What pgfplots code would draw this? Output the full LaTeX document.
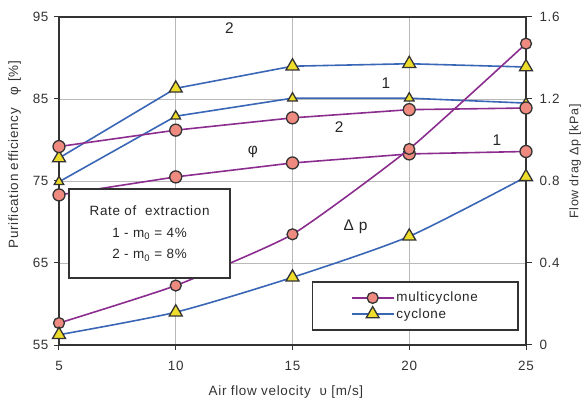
\documentclass[border=0pt]{standalone}
\usepackage{pgfplots}
\pgfplotsset{compat=1.18}
\usepackage{fontspec}
\setmainfont{Liberation Sans}[LetterSpace=5]
\definecolor{mpurple}{HTML}{8B2D8F}
\definecolor{mblue}{HTML}{3A66B6}
\definecolor{msalmon}{HTML}{EE8A80}
\definecolor{myellow}{HTML}{EEDD2A}
\definecolor{edge}{HTML}{333333}
\pgfplotsset{
  multi/.style={mpurple, line width=1.6bp, mark=*, mark size=6bp,
     mark options={fill=msalmon, draw=edge, line width=1.3bp, solid}},
  cyc/.style={mblue, line width=1.6bp, mark=triangle*, mark size=7.5bp,
     mark options={fill=myellow, draw=edge, line width=1.3bp, solid}},
  cycsmall/.style={cyc, mark size=5.5bp},
}
\begin{document}
\begin{tikzpicture}[font=\fontsize{13.5}{15}\selectfont]
\begin{axis}[
  at={(0,0)}, anchor=south west,
  scale only axis, width=467bp, height=328bp,
  xmin=5, xmax=25, ymin=55, ymax=95,
  xtick={5,10,15,20,25}, ytick={55,65,75,85,95},
  xtick pos=bottom, ytick pos=left,
  tick align=outside, major tick length=5bp,
  tick style={edge, line width=1bp},
  axis line style={draw=none},
  grid=major, major grid style={gray!55, line width=0.9bp},
  /pgf/number format/assume math mode=true,
  ticklabel style={font=\fontsize{13.5}{15}\selectfont, text=black!80},
  xticklabel style={yshift=-8bp},
  yticklabel style={xshift=-2bp},
  xlabel={Air flow velocity\ \ υ [m/s]},
  xlabel style={at={(axis description cs:0.486,-0.143)}, anchor=center, text=black!80},
  ylabel={Purification efficiency\ \ \ φ [\%]},
  ylabel style={at={(axis description cs:-0.095,0.58)}, anchor=center, text=black!80},
  clip=false,
]
\draw[edge, line width=1.3bp] (rel axis cs:0,1) -- (rel axis cs:1,1);
\draw[edge, line width=2.4bp] (rel axis cs:0,1) -- (rel axis cs:0,0) -- (rel axis cs:1,0) -- (rel axis cs:1,1);
% cyclone efficiency, m0 = 8%
\addplot[cyc] coordinates {(5,77.8) (10,86.3) (15,89.0) (20,89.3) (25,88.9)};
% cyclone efficiency, m0 = 4%
\addplot[cycsmall] coordinates {(5,74.9) (10,82.9) (15,85.1) (20,85.1) (25,84.5)};
% multicyclone efficiency, m0 = 8%
\addplot[multi] coordinates {(5,79.2) (10,81.2) (15,82.7) (20,83.7) (25,83.9)};
% multicyclone efficiency, m0 = 4%
\addplot[multi] coordinates {(5,73.3) (10,75.5) (15,77.2) (20,78.3) (25,78.6)};
\node[text=black!85, font=\fontsize{15.5}{17}\selectfont] at (axis cs:12.3,93.6) {2};
\node[text=black!85, font=\fontsize{15.5}{17}\selectfont] at (axis cs:19.0,86.9) {1};
\node[text=black!85, font=\fontsize{15.5}{17}\selectfont] at (axis cs:17.0,81.6) {2};
\node[text=black!85, font=\fontsize{15.5}{17}\selectfont] at (axis cs:13.3,78.6) {φ};
\node[text=black!85, font=\fontsize{15.5}{17}\selectfont] at (axis cs:23.75,80.0) {1};
\node[text=black!85, font=\fontsize{15.5}{17}\selectfont] at (axis cs:17.7,69.4) {Δ p};
\end{axis}
\begin{axis}[
  at={(0,0)}, anchor=south west,
  scale only axis, width=467bp, height=328bp,
  xmin=5, xmax=25, ymin=0, ymax=1.6,
  axis x line=none, axis y line*=right,
  axis line style={draw=none},
  ytick={0,0.4,0.8,1.2,1.6}, yticklabels={0,0.4,0.8,1.2,1.6},
  tick align=outside, major tick length=6bp,
  tick style={edge, line width=1bp},
  /pgf/number format/assume math mode=true,
  ticklabel style={font=\fontsize{13.5}{15}\selectfont, text=black!80},
  yticklabel style={xshift=4bp},
  ylabel={Flow drag Δp [kPa]},
  ylabel style={at={(axis description cs:1.105,0.56)}, anchor=center, text=black!80, font=\fontsize{12.5}{14}\selectfont},
  clip=false,
  legend style={name=leg, at={(rel axis cs:0.983,0.046)}, anchor=south east,
     draw=none, fill=white, inner xsep=38bp, inner ysep=8bp,
     font=\fontsize{13.5}{15}\selectfont, row sep=1bp,
     nodes={text=black!85}},
  legend cell align=left,
  legend image code/.code={\draw[line width=1.6bp, mark repeat=2, mark phase=2] plot coordinates {(0bp,0bp) (21bp,0bp) (42bp,0bp)};},
]
\addplot[multi, mark size=5.5bp, smooth, tension=0.3] coordinates {(5,0.107) (10,0.29) (15,0.54) (20,0.956) (25,1.47)};
\addlegendentry{multicyclone}
\addplot[cyc, smooth, tension=0.4] coordinates {(5,0.05) (10,0.16) (15,0.33) (20,0.53) (25,0.82)};
\addlegendentry{cyclone}
\node[draw=edge, line width=1.5bp, fill=white, minimum width=161bp, minimum height=89bp,
      align=center, text=black!85, font=\fontsize{13.5}{22}\selectfont]
  at (axis cs:8.88,0.545) {Rate of\ \ extraction\\ 1 - m\textsubscript{0} = 4\%\\ 2 - m\textsubscript{0} = 8\%};
\end{axis}
\draw[edge, line width=1.4bp] (leg.south west) rectangle (leg.north east);
\pgfresetboundingbox
\path[use as bounding box] (-59bp,-60bp) rectangle (525bp,345bp);
\end{tikzpicture}
\end{document}
